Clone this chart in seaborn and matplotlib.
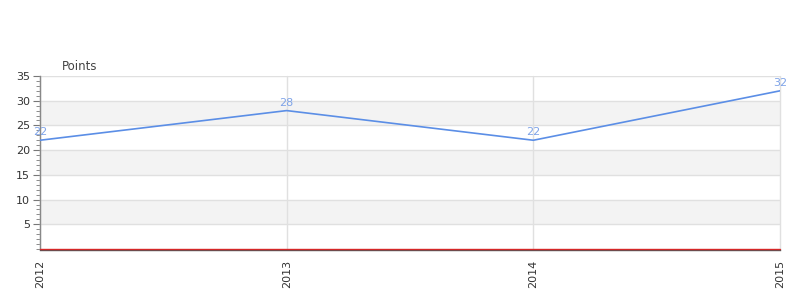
import matplotlib
matplotlib.use("Agg")
import matplotlib.pyplot as plt
import seaborn as sns
import pandas as pd
from matplotlib.ticker import MultipleLocator

years = [2012, 2013, 2014, 2015]
points = [22, 28, 22, 32]
year_labels = ["2012", "2013", "2014", "2015"]

df = pd.DataFrame({"year": years, "points": points})

sns.set_style("white")
plt.rcParams['font.family'] = ['DejaVu Sans']

fig = plt.figure(figsize=(8, 3), dpi=100)
ax = fig.add_axes([0.05, 0.17, 0.925, 0.5767])
for s in ["top", "right"]:
    ax.spines[s].set_visible(False)
ax.spines["bottom"].set_position(("outward", 1))

# alternating bands
for lo in (5, 15, 25):
    ax.axhspan(lo, lo + 5, color="#f3f3f3", zorder=0, lw=0)
for y in range(5, 36, 5):
    ax.axhline(y, color="#e0e0e0", lw=1, zorder=1)
for x in years:
    ax.axvline(x, color="#e0e0e0", lw=1, zorder=1, clip_on=False)

sns.lineplot(data=df, x="year", y="points", ax=ax, color="#5b8ee6", lw=1.2, zorder=3)
for x, y in zip(years, points):
    ax.annotate(str(y), (x, y), xytext=(0, 2), textcoords="offset points",
                ha="center", va="bottom", fontsize=8, color="#7ea3e8", zorder=4)

ax.axhline(0, color="#d62728", lw=1, zorder=4, clip_on=False)
ax.set_xlim(2012, 2015)
ax.set_ylim(0, 35)
ax.set_xticks(years)
ax.set_xticklabels(year_labels, rotation=90, fontsize=8, color="#333333")
ax.set_yticks([5, 10, 15, 20, 25, 30, 35])
ax.set_yticklabels(["5", "10", "15", "20", "25", "30", "35"], fontsize=8, color="#333333")
ax.yaxis.set_minor_locator(MultipleLocator(1))
ax.tick_params(axis="y", which="major", length=5, color="#777777", direction="out", left=True, pad=2)
ax.tick_params(axis="y", which="minor", length=3, color="#777777", direction="out", left=True)
ax.tick_params(axis="x", length=0, pad=7)
ax.set_xlabel("")
ax.set_ylabel("")
ax.spines["left"].set_color("#888888")
ax.spines["left"].set_linewidth(1)
ax.spines["bottom"].set_color("#555555")
ax.spines["bottom"].set_linewidth(1)
ax.text(0.03, 1.02, "Points", transform=ax.transAxes, fontsize=8.5, color="#444444",
        ha="left", va="bottom")

fig.savefig("out.png", dpi=100)
